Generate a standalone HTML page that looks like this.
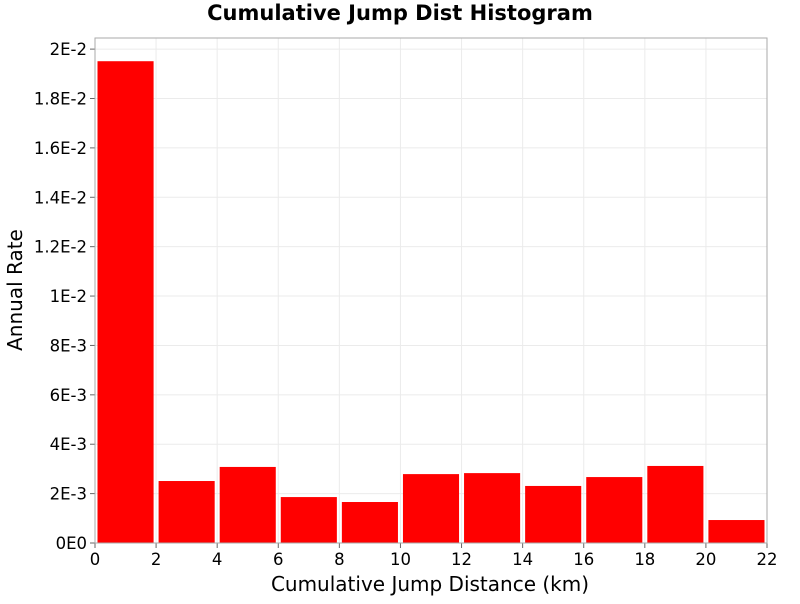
<!DOCTYPE html>
<html><head><meta charset="utf-8"><style>
body{margin:0;background:#fff;font-family:"DejaVu Sans","Liberation Sans",sans-serif;}
</style></head><body>
<svg id="c" width="800" height="600" xmlns="http://www.w3.org/2000/svg">
<text x="400" y="20" text-anchor="middle" font-size="21" font-weight="bold">Cumulative Jump Dist Histogram</text>
<rect x="95" y="38" width="672" height="505" fill="#fff"/>
<g id="grid"></g><g id="bars"></g><g id="axes"></g>
<rect x="95" y="38" width="672" height="505" fill="none" stroke="#aaa"/>
<text x="430" y="591" text-anchor="middle" font-size="20">Cumulative Jump Distance (km)</text>
<text transform="translate(22,290) rotate(-90)" text-anchor="middle" font-size="20">Annual Rate</text>
</svg>
<script>
const binStarts=[0,2,4,6,8,10,12,14,16,18,20];
const rates=[0.01951,0.00251,0.00308,0.00186,0.00166,0.00279,0.00283,0.00231,0.00267,0.00312,0.00093];
const xTicks=[0,2,4,6,8,10,12,14,16,18,20,22];
const yTicks=[0,0.002,0.004,0.006,0.008,0.01,0.012,0.014,0.016,0.018,0.02];
const yLabels=["0E0","2E-3","4E-3","6E-3","8E-3","1E-2","1.2E-2","1.4E-2","1.6E-2","1.8E-2","2E-2"];
const X0=95,X1=767,Y0=543,YT=38,xMax=22,yMax=0.02045;
const sx=v=>X0+v/xMax*(X1-X0), sy=v=>Y0-v/yMax*(Y0-YT);
const NS="http://www.w3.org/2000/svg";
function mk(t,a,p){const e=document.createElementNS(NS,t);for(const k in a)e.setAttribute(k,a[k]);p.appendChild(e);return e;}
const g=document.getElementById('grid'),b=document.getElementById('bars'),ax=document.getElementById('axes');
xTicks.forEach(t=>{const l=mk('line',{x1:sx(t),x2:sx(t),y1:YT,y2:Y0,stroke:'#ebebeb'},g);

const tk=mk('line',{x1:sx(t),x2:sx(t),y1:Y0,y2:Y0+5,stroke:'#666'},ax);

const tx=mk('text',{x:sx(t),y:Y0+22,'text-anchor':'middle','font-size':'16.5'},ax);tx.textContent=t;
});
yTicks.forEach((t,i)=>{const l=mk('line',{x1:X0,x2:X1,y1:sy(t),y2:sy(t),stroke:'#ebebeb'},g);

const tk=mk('line',{x1:X0-5,x2:X0,y1:sy(t),y2:sy(t),stroke:'#666'},ax);

const tx=mk('text',{x:X0-8,y:sy(t)+6,'text-anchor':'end','font-size':'16.5'},ax);tx.textContent=yLabels[i];
});
binStarts.forEach((s,i)=>{const x=sx(s)+2.5,w=sx(s+2)-sx(s)-5;
const r=mk('rect',{x:x,y:sy(rates[i]),width:w,height:Y0-sy(rates[i]),fill:'#ff0000'},b);
});
</script>
</body></html>
